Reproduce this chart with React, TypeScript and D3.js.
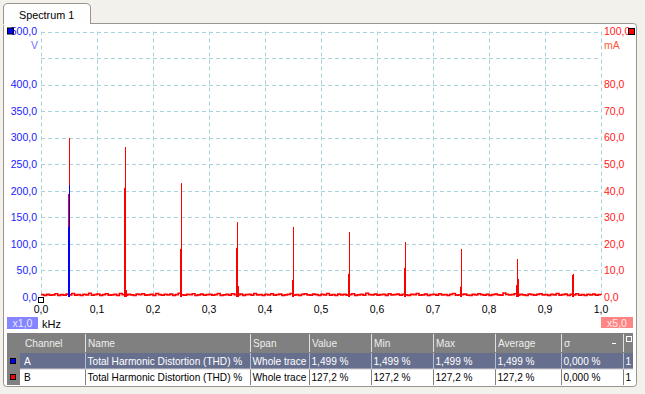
import React from "react";
import * as d3 from "d3";

// ---------- data ----------
const xTicks = [0, 0.1, 0.2, 0.3, 0.4, 0.5, 0.6, 0.7, 0.8, 0.9, 1.0];
const leftTicks = [500, 400, 350, 300, 250, 200, 150, 100, 50, 0];
const rightTicks = [100, 80, 70, 60, 50, 40, 30, 20, 10, 0];
const gridLeft = [50, 100, 150, 200, 250, 300, 350, 400, 450, 500];

// harmonic frequencies (kHz)
const harmonicFreqs = [0.05, 0.15, 0.25, 0.35, 0.45, 0.55, 0.65, 0.75, 0.85, 0.95];
// channel B (mA): peak bin, bin before, bin after
const redMain = [59.9, 56.5, 42.9, 28.2, 26.4, 24.5, 20.7, 18.1, 14.3, 8.7];
const redBefore = [38.8, 41.1, 18.1, 18.5, 6.4, 8.7, 10.9, 3.9, 4.5, 8.3];
const redAfter = [0, 2.6, 0, 4.1, 0, 0, 0, 0, 6.8, 0];
// channel A (V)
const blueFreqs = [0.05];
const blueMain = [211];
const blueBefore = [132];

// channel B noise floor (mA), 5 Hz bins from 0 to 1000 Hz
const noiseStepHz = 5;
const redNoise = [
  0.9, 0.6, 1.0, 0.7, 0.8, 1.2, 0.6, 0.9, 0.7, 1.1,
  0.8, 1.3, 0.7, 0.9, 0.6, 1.0, 0.8, 1.4, 0.7, 0.9,
  1.1, 0.6, 0.9, 1.2, 0.7, 0.8, 1.0, 0.6, 1.3, 0.9,
  0.7, 1.0, 0.8, 0.6, 1.1, 0.9, 1.2, 0.7, 0.8, 1.0,
  0.6, 1.3, 0.9, 0.7, 1.0, 0.8, 1.1, 0.6, 0.9, 1.4,
  0.8, 0.7, 1.0, 0.9, 1.2, 0.6, 0.8, 1.1, 0.7, 0.9,
  1.0, 0.7, 0.9, 1.3, 0.6, 0.8, 1.0, 0.7, 1.2, 0.9,
  0.8, 1.1, 0.6, 0.9, 1.0, 0.7, 1.3, 0.8, 0.9, 0.6,
  1.0, 0.8, 1.2, 0.7, 0.9, 1.1, 0.6, 0.8, 1.0, 1.3,
  0.7, 0.9, 0.6, 1.0, 1.2, 0.8, 0.7, 1.1, 0.9, 0.6,
  1.0, 0.8, 1.3, 0.7, 0.9, 0.6, 1.1, 0.8, 1.0, 0.7,
  0.9, 1.2, 0.6, 0.8, 1.0, 0.7, 1.4, 0.9, 0.8, 1.1,
  0.7, 0.9, 1.0, 0.6, 1.2, 0.8, 0.9, 1.1, 0.7, 1.0,
  0.8, 0.6, 1.0, 0.9, 1.3, 0.7, 0.8, 1.1, 0.6, 0.9,
  1.0, 0.7, 1.2, 0.8, 0.9, 0.6, 1.0, 1.3, 0.7, 0.8,
  0.9, 1.1, 0.7, 0.6, 1.0, 0.8, 1.2, 0.9, 0.7, 1.0,
  0.6, 0.9, 1.1, 0.8, 0.7, 1.5, 1.0, 0.8, 0.9, 1.2,
  0.7, 1.0, 0.8, 0.6, 1.1, 0.9, 0.7, 1.0, 1.2, 0.8,
  0.9, 0.6, 1.0, 0.8, 1.3, 0.7, 0.9, 1.1, 0.6, 1.0,
  0.8, 1.2, 0.7, 0.9, 0.6, 1.0, 0.8, 1.1, 0.7, 0.9,
  0.8,
];

// table
const tableHeaders = ["Channel", "Name", "Span", "Value", "Min", "Max", "Average", "σ", ""];
const channels = ["A", "B"];
const channelColors = ["#0000ff", "#ff0000"];
const measNames = ["Total Harmonic Distortion (THD) %", "Total Harmonic Distortion (THD) %"];
const spans = ["Whole trace", "Whole trace"];
const values = ["1,499 %", "127,2 %"];
const mins = ["1,499 %", "127,2 %"];
const maxs = ["1,499 %", "127,2 %"];
const averages = ["1,499 %", "127,2 %"];
const sigmas = ["0,000 %", "0,000 %"];
const counts = ["1", "1"];

const FONT = "'Liberation Sans', Arial, sans-serif";
const fmt = (v: number) => d3.format(".1f")(v).replace(".", ",");

export default function App() {
  const W = 645, H = 394;
  const x = d3.scaleLinear().domain([0, 1]).range([41, 601]);
  const yL = d3.scaleLinear().domain([0, 500]).range([297, 31.5]);
  const yR = d3.scaleLinear().domain([0, 100]).range([297, 31.5]);
  const px = (v: number) => Math.round(v) + 0.5;
  const binKHz = 1 / 560; // one pixel

  const noisePts: [number, number][] = redNoise.map((v, i) => [(i * noiseStepHz) / 1000, v]);
  const noiseLine = d3
    .line<[number, number]>()
    .x((d) => x(d[0]))
    .y((d) => yR(d[1]))
    .curve(d3.curveStepAfter);

  const redBars: { f: number; v: number }[] = [];
  harmonicFreqs.forEach((f, i) => {
    redBars.push({ f: f - binKHz, v: redBefore[i] });
    redBars.push({ f, v: redMain[i] });
    if (redAfter[i] > 0) redBars.push({ f: f + binKHz, v: redAfter[i] });
  });
  const blueBars: { f: number; v: number }[] = [];
  blueFreqs.forEach((f, i) => {
    blueBars.push({ f: f - binKHz, v: blueBefore[i] });
    blueBars.push({ f, v: blueMain[i] });
  });

  const colEdges = [20, 85, 250, 309, 371, 433, 495, 561, 623, 633];
  const rowsTop = [353, 369];
  const rowH = 16;
  const rowCells = channels.map((c, i) => [
    c, measNames[i], spans[i], values[i], mins[i], maxs[i], averages[i], sigmas[i], counts[i],
  ]);
  const TF = 10.1;

  return (
    <svg width={W} height={H} style={{ position: "absolute", left: 0, top: 0 }} fontFamily={FONT}>
      <defs>
        <clipPath id="plotclip">
          <rect x={40} y={20} width={563} height={277.5} />
        </clipPath>
      </defs>
      <rect x={0} y={0} width={W} height={H} fill="#f3f1ec" />
      {/* panel */}
      <rect x={3.5} y={23.5} width={633} height={363} rx={3} fill="#ffffff" stroke="#9b958e" />
      {/* tab */}
      <path
        d="M3.5,24 L3.5,8 Q3.5,3.5 8,3.5 L86,3.5 Q90.5,3.5 90.5,8 L90.5,24"
        fill="#fefefe"
        stroke="#9b958e"
      />
      <rect x={4} y={22} width={86} height={3} fill="#ffffff" />
      <text x={19} y={19} fontSize={10.8} fill="#000">Spectrum 1</text>

      {/* grid */}
      <g stroke="#a6d2dc" strokeDasharray="4,3" strokeWidth={1}>
        {gridLeft.map((v) => (
          <line key={"h" + v} x1={x(0)} x2={x(1)} y1={px(yL(v))} y2={px(yL(v))} />
        ))}
        {xTicks.map((v) => (
          <line key={"v" + v} x1={px(x(v))} x2={px(x(v))} y1={yL(500)} y2={yL(0)} />
        ))}
      </g>

      {/* traces */}
      <g clipPath="url(#plotclip)">
        <path d={noiseLine(noisePts) || ""} fill="none" stroke="#ff0000" strokeWidth={1.6} />
        {redBars.map((b, i) => (
          <line key={"r" + i} x1={px(x(b.f))} x2={px(x(b.f))} y1={yR(0)} y2={yR(b.v)} stroke="#ff0000" strokeWidth={1} />
        ))}
        {blueBars.map((b, i) => (
          <line key={"b" + i} x1={px(x(b.f))} x2={px(x(b.f))} y1={yL(0)} y2={yL(b.v)} stroke="#0000ff" strokeWidth={1} />
        ))}
      </g>

      {/* left axis labels */}
      {leftTicks.map((v) => (
        <text key={"l" + v} x={37} y={yL(v)} dy="0.36em" textAnchor="end" fontSize={10.5} fill="#1a1aff">
          {fmt(v)}
        </text>
      ))}
      <text x={38} y={45} dy="0.36em" textAnchor="end" fontSize={10.5} fill="#7070ff">V</text>
      <rect x={7.5} y={28} width={6} height={6} fill="#0000ff" stroke="#000" />

      {/* right axis labels */}
      {rightTicks.map((v) => (
        <text key={"r" + v} x={604} y={yR(v)} dy="0.36em" fontSize={10.5} fill="#ff1a1a">
          {fmt(v)}
        </text>
      ))}
      <text x={604} y={45} dy="0.36em" fontSize={10.5} fill="#ff5a3a">mA</text>
      <rect x={628.5} y={28.5} width={6} height={6} fill="#ff0000" stroke="#000" />

      {/* x axis */}
      {xTicks.map((v) => (
        <text key={"x" + v} x={x(v)} y={313} textAnchor="middle" fontSize={10.5} fill="#000">
          {fmt(v)}
        </text>
      ))}
      <rect x={38.5} y={297.5} width={5} height={5} fill="#fff" stroke="#000" />
      <rect x={7} y={317} width={31} height={12} fill="#8585ff" />
      <text x={22.5} y={327} textAnchor="middle" fontSize={10.5} fill="#e8e8ff">x1,0</text>
      <text x={42} y={328} fontSize={11} fill="#000">kHz</text>
      <rect x={601} y={317} width={32} height={11} fill="#ff8585" />
      <text x={617} y={326.5} textAnchor="middle" fontSize={10.5} fill="#ffe8e8">x5,0</text>

      {/* table */}
      <rect x={7} y={333} width={626} height={52} fill="#808080" />
      {tableHeaders.map((h, i) => (
        <text key={"th" + i} x={i === 0 ? 25 : colEdges[i] + 3} y={347} fontSize={TF} fill="#eeeeee">
          {h}
        </text>
      ))}
      {colEdges.slice(1, 9).map((e, i) => (
        <line key={"hs" + i} x1={e + 0.5} x2={e + 0.5} y1={334} y2={352} stroke="#e0e0e0" />
      ))}
      <line x1={612} x2={616} y1={343.5} y2={343.5} stroke="#fff" />
      <rect x={626.5} y={336.5} width={5} height={5} fill="none" stroke="#fff" />
      {rowCells.map((cells, r) => (
        <g key={"row" + r}>
          <rect x={20} y={rowsTop[r]} width={613} height={rowH} fill={r === 0 ? "#676f8f" : "#ffffff"} />
          <rect x={10.5} y={rowsTop[r] + 5.5} width={5} height={5} fill={channelColors[r]} stroke="#000" />
          {colEdges.slice(1, 9).map((e, i) => (
            <line key={"rs" + i} x1={e + 0.5} x2={e + 0.5} y1={rowsTop[r]} y2={rowsTop[r] + rowH}
              stroke={r === 0 ? "#b8bccc" : "#808080"} />
          ))}
          {cells.map((c, i) => (
            <text key={"td" + i} x={i === 0 ? 24 : colEdges[i] + 2.5} y={rowsTop[r] + 12} fontSize={TF}
              fill={r === 0 ? "#ffffff" : "#000000"}>
              {c}
            </text>
          ))}
        </g>
      ))}
      <line x1={20} x2={633} y1={369} y2={369} stroke="#d0d0d0" />
    </svg>
  );
}
